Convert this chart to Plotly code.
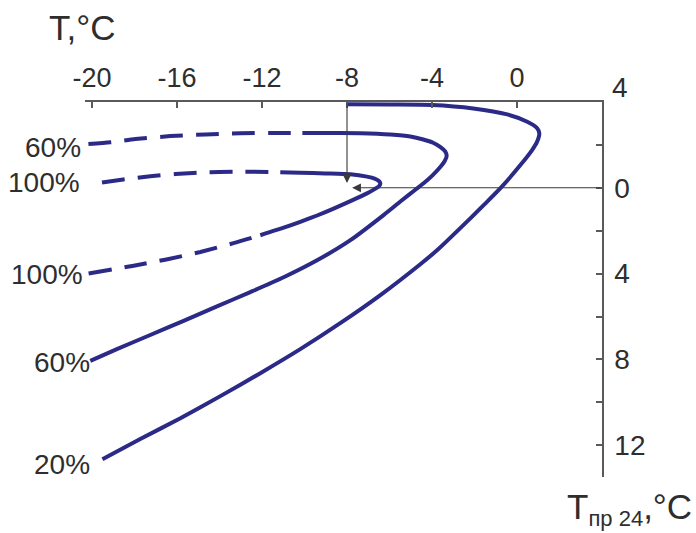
import plotly.graph_objects as go

# ---- curve data: T (x, deg C) against T_pr24 (y, deg C) for relative humidity ----
# 20 % humidity: single solid curve, upper branch -> nose -> lower branch
rh20_x = [-7.99, -5.96, -3.99, -2.06, -0.46, 0.48, 0.95, 1.05, 0.94, 0.71, 0.16,
          -0.79, -1.57, -2.67, -3.75, -4.55, -6.43, -8.32, -10.20, -12.08, -13.96,
          -15.84, -17.73, -19.51]
rh20_y = [3.89, 3.88, 3.86, 3.70, 3.42, 3.08, 2.78, 2.54, 2.14, 1.76, 1.06,
          -0.03, -0.81, -1.88, -2.90, -3.56, -5.00, -6.31, -7.52, -8.64, -9.71,
          -10.74, -11.71, -12.65]

# 60 % humidity: dashed upper tail, then solid
rh60_dash_x = [-20.17, -19.13, -17.96, -16.32, -14.66, -13.02, -11.14, -10.10]
rh60_dash_y = [2.04, 2.12, 2.27, 2.41, 2.49, 2.54, 2.56, 2.56]
rh60_solid_x = [-10.10, -9.26, -7.37, -5.96, -5.02, -4.41, -3.95, -3.60, -3.38, -3.31,
                -3.40, -3.61, -3.99, -4.41, -4.80, -5.49, -6.28, -7.84, -9.41, -10.98,
                -12.55, -14.12, -15.69, -17.26, -18.83, -20.08]
rh60_solid_y = [2.56, 2.56, 2.54, 2.48, 2.39, 2.25, 2.10, 1.90, 1.70, 1.50,
                1.25, 0.97, 0.57, 0.20, -0.10, -0.64, -1.27, -2.44, -3.38, -4.17,
                -4.86, -5.53, -6.20, -6.86, -7.52, -8.07]

# 100 % humidity: dashed upper tail, solid middle, dashed lower tail
rh100_dash_up_x = [-19.53, -18.53, -17.26, -16.08, -14.43, -12.79, -11.14]
rh100_dash_up_y = [0.25, 0.39, 0.54, 0.64, 0.73, 0.75, 0.72]
rh100_solid_x = [-11.14, -10.20, -9.02, -7.84, -7.06, -6.70, -6.50, -6.43, -6.50,
                 -6.70, -7.06, -7.84, -8.63, -9.41, -10.20, -10.98, -12.08]
rh100_solid_y = [0.72, 0.70, 0.67, 0.63, 0.52, 0.43, 0.32, 0.20, 0.07,
                 -0.06, -0.26, -0.62, -0.97, -1.29, -1.59, -1.86, -2.21]
rh100_dash_lo_x = [-20.16, -18.04, -16.50, -14.90, -13.34, -12.08]
rh100_dash_lo_y = [-3.99, -3.63, -3.34, -2.99, -2.58, -2.21]

# curve labels and the point each label sits against (right edge, middle)
curve_labels = ["60%", "100%", "100%", "60%", "20%"]
label_x = [-20.41, -20.45, -20.31, -19.98, -19.98]
label_y = [1.90, 0.27, -4.02, -8.13, -12.89]

# axis ticks
x_ticks = [-20, -16, -12, -8, -4, 0]
x_ticktext = ["-20", "-16", "-12", "-8", "-4", "0"]
y_ticks = [2, 0, -2, -4, -6, -8, -10, -12]
y_ticktext = ["", "0", "", "4", "", "8", "", "12"]

# guide arrows: from the top axis down to the 100 % nose, and back from the right axis
guide_down = dict(x0=-8.0, y0=4.0, x1=-8.0, y1=0.22)
guide_left = dict(x0=4.0, y0=0.0, x1=-7.76, y1=0.0)

X_RANGE = [-20.33, 4]
Y_RANGE = [-13.48, 4]

CURVE_COLOR = "#2b2a87"
AXIS_COLOR = "#5a5a5a"
TEXT_COLOR = "#2e2e2e"
FONT = "Liberation Sans, Arial, sans-serif"
DASH = "23px,13px"


def to_paper_x(v):
    return (v - X_RANGE[0]) / (X_RANGE[1] - X_RANGE[0])


def to_paper_y(v):
    return (v - Y_RANGE[0]) / (Y_RANGE[1] - Y_RANGE[0])


fig = go.Figure()


def add_line(xs, ys, dash="solid"):
    fig.add_trace(go.Scatter(
        x=xs, y=ys, mode="lines", cliponaxis=False, showlegend=False,
        hoverinfo="skip",
        line=dict(color=CURVE_COLOR, width=4, shape="spline", smoothing=0.6, dash=dash),
    ))


add_line(rh20_x, rh20_y)
add_line(rh60_dash_x, rh60_dash_y, DASH)
add_line(rh60_solid_x, rh60_solid_y)
add_line(rh100_dash_up_x, rh100_dash_up_y, DASH)
add_line(rh100_solid_x, rh100_solid_y)
add_line(rh100_dash_lo_x, rh100_dash_lo_y, DASH)

annotations = []
for g in (guide_down, guide_left):
    annotations.append(dict(
        x=g["x1"], y=g["y1"], ax=g["x0"], ay=g["y0"], xref="x", yref="y",
        axref="x", ayref="y", text="", showarrow=True, arrowhead=2,
        arrowsize=1.6, arrowwidth=1.1, arrowcolor="#3a3a3a", standoff=0,
    ))

for txt, lx, ly in zip(curve_labels, label_x, label_y):
    annotations.append(dict(
        x=to_paper_x(lx), y=to_paper_y(ly), xref="paper", yref="paper",
        text=txt, showarrow=False, xanchor="right", yanchor="middle",
        font=dict(family=FONT, size=28, color=TEXT_COLOR),
    ))

# top value of the right-hand scale
annotations.append(dict(
    x=1, y=1, xref="paper", yref="paper", text="4", showarrow=False,
    xanchor="left", yanchor="middle", xshift=8, yshift=15,
    font=dict(family=FONT, size=28, color=TEXT_COLOR),
))

# axis titles
annotations.append(dict(
    x=to_paper_x(-20.46), y=1, xref="paper", yref="paper", text="T,°C",
    showarrow=False, xanchor="center", yanchor="middle", yshift=75,
    font=dict(family=FONT, size=35, color=TEXT_COLOR),
))
annotations.append(dict(
    x=1, y=0, xref="paper", yref="paper",
    text="T<sub><span style='font-size:22px'>пр 24</span></sub>,°C",
    showarrow=False, xanchor="right", yanchor="middle", xshift=92, yshift=-32,
    font=dict(family=FONT, size=35, color=TEXT_COLOR),
))

fig.update_layout(
    width=696, height=533, autosize=False,
    margin=dict(l=85, r=94, t=102, b=56, pad=0),
    paper_bgcolor="white", plot_bgcolor="white",
    showlegend=False,
    annotations=annotations,
    xaxis=dict(
        range=X_RANGE, side="top", showgrid=False, zeroline=False,
        showline=True, linecolor=AXIS_COLOR, linewidth=1.5,
        tickmode="array", tickvals=x_ticks, ticktext=x_ticktext,
        ticks="inside", ticklen=6, tickwidth=1.5, tickcolor=AXIS_COLOR,
        tickfont=dict(family=FONT, size=27, color=TEXT_COLOR),
        ticklabelstandoff=2,
    ),
    yaxis=dict(
        range=Y_RANGE, side="right", showgrid=False, zeroline=False,
        showline=True, linecolor=AXIS_COLOR, linewidth=1.5,
        tickmode="array", tickvals=y_ticks, ticktext=y_ticktext,
        ticks="inside", ticklen=6, tickwidth=1.5, tickcolor=AXIS_COLOR,
        tickfont=dict(family=FONT, size=28, color=TEXT_COLOR),
        ticklabelstandoff=5,
    ),
)

fig.write_html("out.html")
